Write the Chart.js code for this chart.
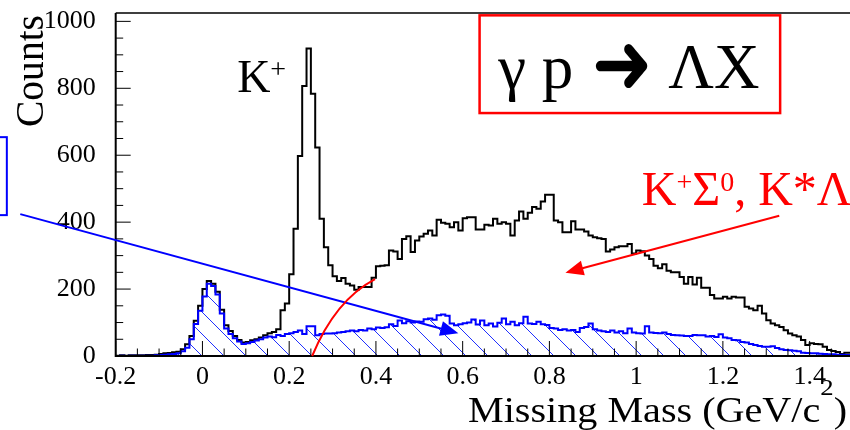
<!DOCTYPE html>
<html>
<head>
<meta charset="utf-8">
<script src="https://cdn.jsdelivr.net/npm/chart.js@4.4.1/dist/chart.umd.min.js"></script>
<style>
  html, body { margin: 0; padding: 0; background: #fff; overflow: hidden; }
  #wrap { width: 853px; height: 430px; }
</style>
</head>
<body>
<div id="wrap"><canvas id="mm" width="853" height="430"></canvas></div>
<script>
// Missing mass spectrum, 10 MeV/c^2 bins from -0.2 to 1.5 GeV/c^2
const binStart = -0.2;
const binWidth = 0.01;

// all events (black outline)
const totalCounts = [
  1, 2, 1, 2, 2, 2, 2, 3, 3, 4,
  6, 8, 9, 11, 13, 20, 35, 60, 105, 150,
  200, 224, 216, 192, 138, 92, 75, 60, 48, 40,
  42, 47, 50, 55, 62, 68, 72, 80, 137, 157,
  244, 380, 598, 807, 919, 784, 623, 410, 325, 271,
  238, 224, 233, 216, 211, 198, 206, 206, 206, 234,
  268, 270, 271, 315, 312, 290, 350, 358, 311, 345,
  357, 365, 375, 360, 407, 398, 395, 385, 400, 375,
  412, 415, 415, 378, 378, 392, 390, 410, 395, 400,
  395, 360, 405, 432, 410, 428, 445, 440, 462, 482,
  482, 405, 400, 370, 370, 403, 378, 378, 372, 360,
  355, 352, 350, 312, 318, 325, 328, 328, 335, 306,
  315, 313, 300, 290, 270, 262, 274, 255, 250, 250,
  236, 216, 236, 214, 234, 204, 204, 182, 172, 172,
  177, 172, 177, 175, 175, 147, 142, 137, 150, 127,
  107, 97, 92, 87, 77, 67, 62, 58, 48, 33,
  38, 36, 35, 28, 18, 15, 12, 6, 10, 10
];

// hatched blue subsample
const selectedCounts = [
  0, 1, 0, 1, 1, 1, 1, 1, 1, 2,
  3, 4, 5, 6, 8, 14, 25, 50, 96, 135,
  178, 216, 209, 184, 127, 82, 66, 53, 43, 36,
  38, 42, 46, 50, 55, 58, 56, 63, 60, 66,
  68, 72, 76, 66, 89, 89, 62, 66, 67, 67,
  68, 70, 72, 74, 76, 74, 78, 76, 82, 80,
  85, 84, 86, 95, 90, 106, 98, 104, 100, 103,
  102, 110, 112, 108, 122, 124, 120, 97, 92, 95,
  98, 100, 109, 94, 106, 92, 97, 88, 99, 112,
  95, 102, 92, 98, 117, 97, 96, 102, 95, 93,
  84, 82, 78, 80, 76, 78, 72, 84, 87, 97,
  80, 76, 74, 72, 76, 70, 74, 68, 82, 70,
  68, 67, 89, 70, 69, 68, 70, 66, 63, 62,
  61, 60, 60, 63, 62, 62, 58, 60, 57, 65,
  55, 53, 48, 47, 42, 40, 36, 33, 30, 28,
  28, 29, 24, 20, 18, 17, 16, 14, 10, 9,
  8, 8, 7, 6, 5, 5, 4, 4, 3, 3
];

const xTickValues = [-0.2, 0, 0.2, 0.4, 0.6, 0.8, 1.0, 1.2, 1.4];
const xTickLabels = ['-0.2', '0', '0.2', '0.4', '0.6', '0.8', '1', '1.2', '1.4'];
const yTickValues = [0, 200, 400, 600, 800, 1000];
const yTickLabels = ['0', '200', '400', '600', '800', '1000'];

const SERIF = '"Liberation Serif", "Times New Roman", serif';

// annotation placement, in axis units
const notes = {
  blueBox: { x0: -0.7, x1: -0.451, y0: 421, y1: 654 },
  blueArrow: { from: [-0.42, 424], to: [0.59, 68] },
  redCurve: { from: [0.253, 0], ctrl: [0.306, 167], to: [0.398, 230] },
  redArrow: { from: [1.33, 419], to: [0.837, 249] },
  redBox: { x0: 0.639, x1: 1.332, y0: 726, y1: 1018 },
  reactionLeft: [0.682, 800],
  reactionArrow: { x0: 0.906, x1: 1.026, y0: 800, y1: 937 },
  reactionRight: [1.074, 800],
  kaon: [0.080, 788],
  sigma: [1.013, 451]
};

// histogram outline as step points (left bin edges + closing edge)
function toSteps(counts) {
  const pts = counts.map((c, i) => ({ x: binStart + i * binWidth, y: c }));
  pts.push({ x: binStart + counts.length * binWidth, y: counts[counts.length - 1] });
  return pts;
}

// diagonal "\\\" hatching
function hatch(color) {
  const s = 22;
  const c = document.createElement('canvas');
  c.width = s; c.height = s;
  const g = c.getContext('2d');
  g.strokeStyle = color;
  g.lineWidth = 1;
  g.beginPath();
  g.moveTo(-2, -2); g.lineTo(s + 2, s + 2);
  g.moveTo(s - 2, -2); g.lineTo(s + 2, 2);
  g.moveTo(-2, s - 2); g.lineTo(2, s + 2);
  g.stroke();
  return g.createPattern(c, 'repeat');
}

function arrow(ctx, x0, y0, x1, y1, color, head) {
  const a = Math.atan2(y1 - y0, x1 - x0);
  const ca = Math.cos(a), sa = Math.sin(a);
  ctx.strokeStyle = color; ctx.fillStyle = color; ctx.lineWidth = 2;
  ctx.beginPath();
  ctx.moveTo(x0, y0);
  ctx.lineTo(x1 - ca * head * 0.7, y1 - sa * head * 0.7);
  ctx.stroke();
  const w = head * 0.42;
  ctx.beginPath();
  ctx.moveTo(x1, y1);
  ctx.lineTo(x1 - head * ca + w * sa, y1 - head * sa - w * ca);
  ctx.lineTo(x1 - head * ca - w * sa, y1 - head * sa + w * ca);
  ctx.closePath();
  ctx.fill();
}

// draw a run of text pieces [text, font, rise]
function runText(ctx, parts, x, y) {
  for (const [t, f, rise] of parts) {
    ctx.font = f;
    ctx.fillText(t, x, y - (rise || 0));
    x += ctx.measureText(t).width;
  }
  return x;
}

function runWidth(ctx, parts) {
  let w = 0;
  for (const [t, f] of parts) { ctx.font = f; w += ctx.measureText(t).width; }
  return w;
}

// glyph stretched so its ink box fills the given rectangle
function fitGlyph(ctx, ch, font, left, top, right, bottom) {
  ctx.font = font;
  const m = ctx.measureText(ch);
  const gw = m.actualBoundingBoxLeft + m.actualBoundingBoxRight;
  const gh = m.actualBoundingBoxAscent + m.actualBoundingBoxDescent;
  ctx.save();
  ctx.translate(left, top);
  ctx.scale((right - left) / gw, (bottom - top) / gh);
  ctx.fillText(ch, m.actualBoundingBoxLeft, m.actualBoundingBoxAscent);
  ctx.restore();
}

const frame = {
  id: 'frame',
  afterDatasetsDraw(chart) {
    const { ctx, chartArea: a, scales: { x, y } } = chart;
    const px = v => x.getPixelForValue(v);
    const py = v => y.getPixelForValue(v);
    ctx.save();

    // ticks pointing into the frame
    ctx.strokeStyle = '#000';
    ctx.lineWidth = 1;
    ctx.beginPath();
    for (let k = 0; k <= 34; k++) {
      const xx = px(binStart + k * 0.05);
      const len = k % 4 === 0 ? 15 : 7.5;
      ctx.moveTo(xx, a.bottom); ctx.lineTo(xx, a.bottom - len);
    }
    for (let k = 0; k <= 20; k++) {
      const yy = py(k * 50);
      const len = k % 4 === 0 ? 15 : 7.5;
      ctx.moveTo(a.left, yy); ctx.lineTo(a.left + len, yy);
    }
    ctx.stroke();

    // frame
    ctx.lineWidth = 1.5;
    ctx.beginPath();
    ctx.moveTo(a.left, a.top); ctx.lineTo(a.right, a.top); ctx.lineTo(a.right, a.bottom);
    ctx.stroke();
    ctx.lineWidth = 2;
    ctx.beginPath();
    ctx.moveTo(a.left, a.top); ctx.lineTo(a.left, a.bottom); ctx.lineTo(a.right, a.bottom);
    ctx.stroke();

    // blue box and arrow
    const bb = notes.blueBox;
    ctx.strokeStyle = '#0000ff';
    ctx.lineWidth = 2;
    ctx.strokeRect(px(bb.x0), py(bb.y1), px(bb.x1) - px(bb.x0), py(bb.y0) - py(bb.y1));
    const ba = notes.blueArrow;
    arrow(ctx, px(ba.from[0]), py(ba.from[1]), px(ba.to[0]), py(ba.to[1]), '#0000ff', 18);

    // red curve and arrow
    const rc = notes.redCurve;
    ctx.strokeStyle = '#ff0000';
    ctx.lineWidth = 2;
    ctx.beginPath();
    ctx.moveTo(px(rc.from[0]), py(rc.from[1]));
    ctx.quadraticCurveTo(px(rc.ctrl[0]), py(rc.ctrl[1]), px(rc.to[0]), py(rc.to[1]));
    ctx.stroke();
    const ra = notes.redArrow;
    arrow(ctx, px(ra.from[0]), py(ra.from[1]), px(ra.to[0]), py(ra.to[1]), '#ff0000', 18);

    // reaction box
    const rb = notes.redBox;
    ctx.strokeStyle = '#ff0000';
    ctx.lineWidth = 2.5;
    ctx.strokeRect(px(rb.x0), py(rb.y1), px(rb.x1) - px(rb.x0), py(rb.y0) - py(rb.y1));

    ctx.textBaseline = 'alphabetic';
    ctx.textAlign = 'left';
    ctx.fillStyle = '#000';
    const big = '63px ' + SERIF;
    runText(ctx, [['\u03b3 p', big, 0]], px(notes.reactionLeft[0]), py(notes.reactionLeft[1]));
    runText(ctx, [['\u039bX', big, 0]], px(notes.reactionRight[0]), py(notes.reactionRight[1]));
    const rA = notes.reactionArrow;
    fitGlyph(ctx, '\u279c', '60px "DejaVu Sans"', px(rA.x0), py(rA.y1), px(rA.x1), py(rA.y0));

    runText(ctx, [
      ['K', '46px ' + SERIF, 0],
      ['+', '28px ' + SERIF, 14]
    ], px(notes.kaon[0]), py(notes.kaon[1]));

    ctx.fillStyle = '#ff0000';
    runText(ctx, [
      ['K', '48px ' + SERIF, 0],
      ['+', '28px ' + SERIF, 14],
      ['\u03a3', '48px ' + SERIF, 0],
      ['0', '28px ' + SERIF, 14],
      [', K*\u039b', '48px ' + SERIF, 0]
    ], px(notes.sigma[0]), py(notes.sigma[1]));

    // axis titles
    ctx.fillStyle = '#000';
    const xt = [
      ['Missing Mass (GeV/c', '36px ' + SERIF, 0],
      ['2', '24px ' + SERIF, 27],
      [')', '36px ' + SERIF, 0]
    ];
    const w = runWidth(ctx, xt);
    ctx.save();
    ctx.translate(468, 421.5);
    ctx.scale(379 / w, 1);
    runText(ctx, xt, 0, 0);
    ctx.restore();

    ctx.save();
    ctx.translate(43, 127);
    ctx.rotate(-Math.PI / 2);
    const yt = [['Counts', '40px ' + SERIF, 0]];
    ctx.scale(112 / runWidth(ctx, yt), 1);
    runText(ctx, yt, 0, 0);
    ctx.restore();

    ctx.restore();
  }
};

const tickFont = { family: SERIF, size: 26 };

new Chart(document.getElementById('mm'), {
  type: 'line',
  data: {
    datasets: [
      {
        label: 'selected',
        data: toSteps(selectedCounts),
        stepped: true,
        borderColor: '#0000ff',
        borderWidth: 2,
        backgroundColor: hatch('#2030ff'),
        fill: 'origin',
        pointRadius: 0
      },
      {
        label: 'all',
        data: toSteps(totalCounts),
        stepped: true,
        borderColor: '#000000',
        borderWidth: 2,
        fill: false,
        pointRadius: 0
      }
    ]
  },
  options: {
    responsive: false,
    animation: false,
    events: [],
    layout: { padding: { top: 13, right: 0, left: 0, bottom: 0 }, autoPadding: false },
    plugins: { legend: { display: false }, tooltip: { enabled: false } },
    scales: {
      x: {
        type: 'linear',
        min: -0.2,
        max: 1.5,
        grid: { display: false, drawTicks: false },
        border: { display: false },
        ticks: {
          font: tickFont, color: '#000', padding: 6, maxRotation: 0, autoSkip: false,
          callback: (v, i) => xTickLabels[i]
        },
        afterBuildTicks: s => { s.ticks = xTickValues.map(v => ({ value: v })); },
        afterFit: s => { s.height = 74; s.paddingLeft = 0; s.paddingRight = 0; }
      },
      y: {
        min: 0,
        max: 1025,
        grid: { display: false, drawTicks: false },
        border: { display: false },
        ticks: {
          font: tickFont, color: '#000', padding: 20,
          callback: (v, i) => yTickLabels[i]
        },
        afterBuildTicks: s => { s.ticks = yTickValues.map(v => ({ value: v })); },
        afterFit: s => { s.width = 115.7; s.paddingTop = 0; s.paddingBottom = 0; }
      }
    }
  },
  plugins: [frame]
});
</script>
</body>
</html>
